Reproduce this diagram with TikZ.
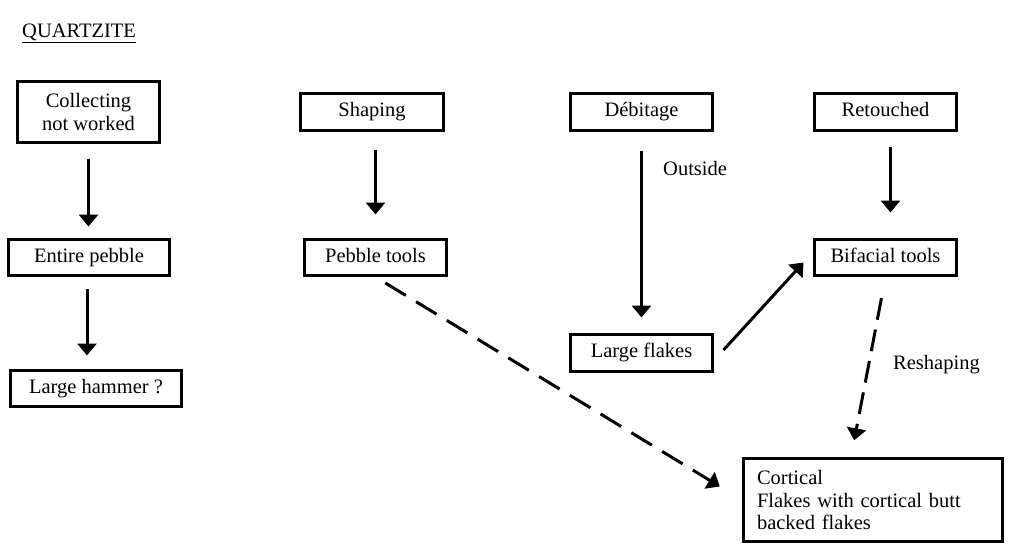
\documentclass[tikz,border=0pt]{standalone}
\usepackage{fontspec}
\setmainfont{Liberation Serif}
\usetikzlibrary{arrows.meta}
\begin{document}
\begin{tikzpicture}[x=1pt,y=-1pt,
  txt/.style={font=\fontsize{20.5}{22.5}\selectfont},
  box/.style={txt, draw, line width=3pt, inner sep=0pt},
  one/.style={box, text height=0.9em, text depth=0em},
  arr/.style={line width=3pt, -{Triangle[width=19pt,length=12pt]}},
  dsh/.style={arr, dash pattern=on 24pt off 12pt},
  lbl/.style={txt, inner sep=0pt, anchor=west}]
\useasboundingbox (0,0) rectangle (1009,551);
\fill[white] (0,0) rectangle (1009,551);
\node[lbl] (title) at (22,33) {\underline{QUARTZITE}};
\node[box, align=center, minimum width=142pt, minimum height=61pt] (coll) at (88.5,112) {Collecting\\not worked};
\node[one, minimum width=161pt, minimum height=36pt] (entire) at (89,257.5) {Entire pebble};
\node[one, minimum width=171pt, minimum height=36pt] (hammer) at (96,388.5) {Large hammer ?};
\node[one, minimum width=143pt, minimum height=37pt] (shaping) at (372,112) {Shaping};
\node[one, minimum width=142pt, minimum height=36pt] (pebble) at (375.5,257.5) {Pebble tools};
\node[one, minimum width=142pt, minimum height=37pt] (debit) at (641.5,112) {Débitage};
\node[one, minimum width=142pt, minimum height=37pt] (retou) at (885.5,112) {Retouched};
\node[one, minimum width=142pt, minimum height=36pt] (bif) at (885.5,257.5) {Bifacial tools};
\node[one, minimum width=142pt, minimum height=37pt] (lflakes) at (641.5,353) {Large flakes};
\node[box, minimum width=259pt, minimum height=83pt, text width=232pt, inner xsep=13.5pt, align=left] (cort) at (873,500) {Cortical\\Flakes with cortical butt\\backed flakes};
\node[lbl] (outside) at (663,168) {Outside};
\node[lbl] (reshaping) at (893,365) {Reshaping};
% arrows
\draw[arr, shorten <=14.5pt, shorten >=11.5pt] (coll.south) -- (coll.south |- entire.north);
\draw[arr, shorten <=11.5pt, shorten >=13.5pt] ([xshift=-2pt]entire.south) -- ([xshift=-2pt]entire.south |- hammer.north);
\draw[arr, shorten <=17.5pt, shorten >=23.5pt] (shaping.south -| pebble.north) -- (pebble.north);
\draw[arr, shorten <=18.5pt, shorten >=15.5pt] (debit.south) -- (lflakes.north);
\draw[arr, shorten <=14.5pt, shorten >=25.5pt] ([xshift=5pt]retou.south) -- ([xshift=5pt]bif.north);
\draw[arr] ([xshift=9.5pt,yshift=3pt]lflakes.east) -- ([xshift=-9.5pt,yshift=14.5pt]bif.south west);
\draw[dsh, shorten <=11.5pt, shorten >=26pt] (pebble.south) -- (cort.west);
\draw[dsh, dash pattern=on 22pt off 10pt, shorten <=21.5pt, shorten >=17pt] (bif.south) -- ([xshift=-22pt]cort.north);
\end{tikzpicture}
\end{document}
